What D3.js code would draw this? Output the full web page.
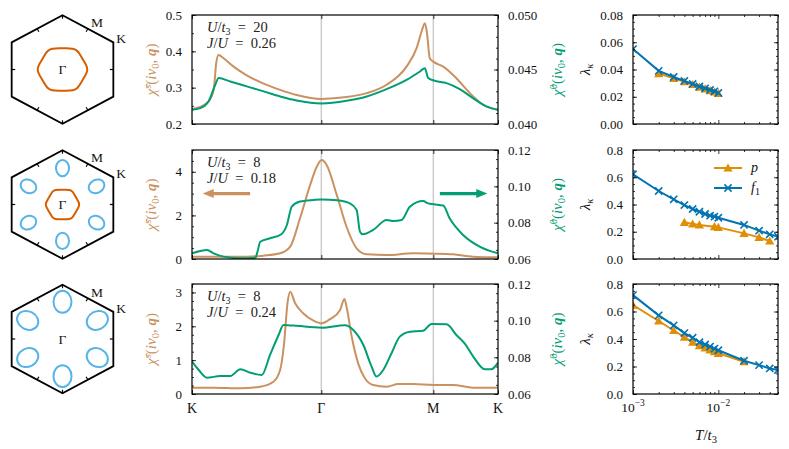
<!DOCTYPE html>
<html>
<head>
<meta charset="utf-8" />
<script src="https://d3js.org/d3.v7.min.js"></script>
<style>
  body { margin: 0; background: #fff; }
</style>
</head>
<body>
<svg id="fig" width="789" height="449"></svg>
<script>
// ---- data ----
// path K -> Gamma -> M -> K, positions as fraction of the path
const pathTicks = [0, 0.4226, 0.7887, 1];
const pathLabels = ["K", "Γ", "M", "K"];

// row 1: U/t3 = 20, J/U = 0.26
const q1s = [0, 0.027, 0.054, 0.071, 0.079, 0.087, 0.103, 0.136, 0.179, 0.234, 0.288, 0.342, 0.424, 0.505, 0.571, 0.636, 0.701, 0.734, 0.75, 0.761, 0.768, 0.777, 0.790, 0.821, 0.864, 0.908, 0.951, 1];
const chiS1 = [0.241, 0.247, 0.262, 0.294, 0.367, 0.390, 0.381, 0.358, 0.334, 0.311, 0.294, 0.280, 0.269, 0.274, 0.285, 0.308, 0.358, 0.409, 0.454, 0.477, 0.450, 0.381, 0.371, 0.358, 0.326, 0.285, 0.253, 0.239];
const q1g = [0, 0.027, 0.054, 0.076, 0.087, 0.125, 0.179, 0.234, 0.288, 0.342, 0.424, 0.505, 0.571, 0.636, 0.701, 0.745, 0.761, 0.772, 0.790, 0.832, 0.875, 0.918, 0.962, 1];
const chi01 = [0.04131, 0.04146, 0.04207, 0.0436, 0.04421, 0.0439, 0.04345, 0.04299, 0.04253, 0.04216, 0.04189, 0.04213, 0.04253, 0.0432, 0.04405, 0.04482, 0.04512, 0.04421, 0.04399, 0.04375, 0.0432, 0.04238, 0.04162, 0.04131];

// row 2: U/t3 = 8, J/U = 0.18
const q2s = [0, 0.071, 0.179, 0.234, 0.288, 0.321, 0.353, 0.386, 0.408, 0.424, 0.440, 0.473, 0.505, 0.538, 0.571, 0.636, 0.723, 0.788, 0.853, 0.918, 1];
const chiS2 = [0.107, 0.107, 0.107, 0.153, 0.26, 0.566, 1.87, 3.39, 4.24, 4.54, 4.31, 2.94, 1.48, 0.49, 0.214, 0.18, 0.26, 0.245, 0.214, 0.107, 0.076];
const q2g = [0, 0.027, 0.049, 0.071, 0.103, 0.158, 0.207, 0.214, 0.223, 0.255, 0.293, 0.310, 0.326, 0.353, 0.397, 0.424, 0.473, 0.516, 0.538, 0.549, 0.558, 0.592, 0.636, 0.658, 0.685, 0.712, 0.755, 0.772, 0.790, 0.821, 0.842, 0.886, 0.940, 1];
const chi02 = [0.0631, 0.0644, 0.0650, 0.0631, 0.0613, 0.0604, 0.0607, 0.0640, 0.0695, 0.0714, 0.0738, 0.0787, 0.0888, 0.0916, 0.0925, 0.0928, 0.0923, 0.0906, 0.0870, 0.0750, 0.0736, 0.0760, 0.0815, 0.0809, 0.0815, 0.0888, 0.0919, 0.0906, 0.0901, 0.0894, 0.0824, 0.0732, 0.0668, 0.0631];

// row 3: U/t3 = 8, J/U = 0.24
const q3s = [0, 0.071, 0.158, 0.223, 0.266, 0.288, 0.301, 0.312, 0.321, 0.337, 0.364, 0.397, 0.424, 0.451, 0.484, 0.498, 0.505, 0.522, 0.543, 0.565, 0.592, 0.636, 0.674, 0.723, 0.790, 0.853, 0.918, 1];
const chiS3 = [0.187, 0.187, 0.167, 0.217, 0.364, 0.709, 1.50, 2.68, 3.02, 2.68, 2.38, 2.17, 2.09, 2.21, 2.48, 2.81, 2.58, 1.69, 0.906, 0.463, 0.266, 0.217, 0.295, 0.295, 0.266, 0.266, 0.187, 0.187];
const q3g = [0, 0.022, 0.049, 0.092, 0.125, 0.158, 0.190, 0.228, 0.255, 0.283, 0.299, 0.332, 0.424, 0.500, 0.527, 0.560, 0.587, 0.603, 0.625, 0.652, 0.679, 0.712, 0.755, 0.783, 0.832, 0.864, 0.891, 0.918, 0.957, 0.978, 1];
const chi03 = [0.0776, 0.0731, 0.0689, 0.0698, 0.0698, 0.0735, 0.0716, 0.0704, 0.0813, 0.0922, 0.0976, 0.0973, 0.0962, 0.0975, 0.0949, 0.0867, 0.0749, 0.0695, 0.0731, 0.0822, 0.0913, 0.0940, 0.0945, 0.0982, 0.0980, 0.0922, 0.0876, 0.0807, 0.0735, 0.0735, 0.0771];

// eigenvalues lambda_kappa vs T/t3
const temps = [0.001, 0.002, 0.003, 0.004, 0.005, 0.006, 0.007, 0.008, 0.009, 0.01, 0.02, 0.03, 0.04, 0.05];
const f1T1 = [0.001, 0.002, 0.003, 0.004, 0.005, 0.006, 0.007, 0.008, 0.009, 0.01];
const f1L1 = [0.055, 0.039, 0.0345, 0.0316, 0.0294, 0.0275, 0.0262, 0.025, 0.024, 0.0228];
const pT1 = [0.002, 0.003, 0.004, 0.005, 0.006, 0.007, 0.008, 0.009, 0.01];
const pL1 = [0.037, 0.0335, 0.031, 0.029, 0.027, 0.0258, 0.0245, 0.0235, 0.0225];
const f1L2 = [0.622, 0.499, 0.438, 0.396, 0.367, 0.347, 0.330, 0.318, 0.311, 0.303, 0.25, 0.208, 0.181, 0.164];
const pT2 = [0.004, 0.005, 0.006, 0.009, 0.01, 0.02, 0.03, 0.04];
const pL2 = [0.269, 0.257, 0.25, 0.237, 0.232, 0.188, 0.159, 0.132];
const f1L3 = [0.719, 0.572, 0.499, 0.443, 0.409, 0.377, 0.36, 0.345, 0.33, 0.318, 0.242, 0.21, 0.186, 0.174];
const pT3 = [0.001, 0.002, 0.003, 0.004, 0.005, 0.006, 0.007, 0.008, 0.009, 0.01, 0.02];
const pL3 = [0.646, 0.531, 0.462, 0.413, 0.377, 0.352, 0.335, 0.32, 0.308, 0.296, 0.235];

// Fermi surfaces (control points), k in units of |Gamma K|
const fs1X = [0.424, 0.370, 0.315, 0.261, 0.179, 0.061, -0.061, -0.179, -0.261, -0.315, -0.370, -0.424,
              -0.424, -0.370, -0.315, -0.261, -0.179, -0.061, 0.061, 0.179, 0.261, 0.315, 0.370, 0.424];
const fs1Y = [0.047, 0.144, 0.246, 0.343, 0.39, 0.39, 0.39, 0.39, 0.343, 0.246, 0.144, 0.047,
              -0.047, -0.144, -0.246, -0.343, -0.39, -0.39, -0.39, -0.39, -0.343, -0.246, -0.144, -0.047];
const fs2X = [0.286, 0.246, 0.209, 0.170, 0.124, 0.040, -0.040, -0.124, -0.170, -0.209, -0.246, -0.286,
              -0.286, -0.246, -0.209, -0.170, -0.124, -0.040, 0.040, 0.124, 0.170, 0.209, 0.246, 0.286];
const fs2Y = [0.027, 0.101, 0.171, 0.245, 0.272, 0.272, 0.272, 0.272, 0.245, 0.171, 0.101, 0.027,
              -0.027, -0.101, -0.171, -0.245, -0.272, -0.272, -0.272, -0.272, -0.245, -0.171, -0.101, -0.027];
const pocketAngles = [90, 30, -30, -90, -150, 150];
const pocket2 = [0.67, 0.15, 0.12];   // distance, radial and tangential half axes
const pocket3 = [0.685, 0.203, 0.166];

// ---- layout ----
const serif = '"Liberation Serif", "DejaVu Serif", serif';
const cTan = "#CA9161", cGreen = "#029E73", cOrange = "#DE8F05", cBlue = "#0173B2";
const cFs = "#D55E00", cPocket = "#56B4E9";
const rows = [{ top: 15, bot: 124 }, { top: 150, bot: 259 }, { top: 284, bot: 394 }];
const midL = 192, midR = 498, lamL = 633, lamR = 778;
const hexCx = 62.5, hexRx = 58.7, hexRy = 54.3;

const svg = d3.select("#fig");
const defs = svg.append("defs");

function axisTicks(g, gen, scale, vals, len, fmt, pad) {
  const ax = gen(scale).tickValues(vals).tickSize(-len).tickPadding(pad || 10)
    .tickFormat(fmt ? d3.format(fmt) : "");
  g.call(ax);
  g.select(".domain").remove();
  g.attr("font-family", serif).attr("font-size", 13);
  g.selectAll(".tick line").attr("stroke", "#000").attr("stroke-width", 0.8);
  g.selectAll(".tick text").attr("fill", "#111");
}

function steps(d, step) {
  return d3.range(d[0], d[1] + step / 2, step);
}

function clipRect(id, x0, y0, x1, y1) {
  defs.append("clipPath").attr("id", id).append("rect")
    .attr("x", x0).attr("y", y0).attr("width", x1 - x0).attr("height", y1 - y0);
}

// ---- middle column: susceptibilities ----
const midPanels = [
  { qs: q1s, s: chiS1, qg: q1g, g: chi01, yl: [0.2, 0.5], yr: [0.04, 0.05],
    lt: [0.2, 0.3, 0.4, 0.5], lm: 0.05, rt: [0.04, 0.045, 0.05], rm: 0.001, lf: ".1f", rf: ".3f", U: "20", J: "0.26" },
  { qs: q2s, s: chiS2, qg: q2g, g: chi02, yl: [0, 5], yr: [0.06, 0.12],
    lt: [0, 2, 4], lm: 0.5, rt: [0.06, 0.08, 0.10, 0.12], rm: 0.005, lf: "d", rf: ".2f", U: "8", J: "0.18" },
  { qs: q3s, s: chiS3, qg: q3g, g: chi03, yl: [0, 3.25], yr: [0.06, 0.12],
    lt: [0, 1, 2, 3], lm: 0.25, rt: [0.06, 0.08, 0.10, 0.12], rm: 0.005, lf: "d", rf: ".2f", U: "8", J: "0.24" }
];

midPanels.forEach((p, i) => {
  const r = rows[i];
  const x = d3.scaleLinear().domain([0, 1]).range([midL, midR]);
  const yL = d3.scaleLinear().domain(p.yl).range([r.bot, r.top]);
  const yR = d3.scaleLinear().domain(p.yr).range([r.bot, r.top]);
  const g = svg.append("g");
  clipRect("midclip" + i, midL, r.top, midR, r.bot);

  // Gamma and M guide lines
  g.selectAll("line.guide").data([pathTicks[1], pathTicks[2]]).join("line")
    .attr("x1", d => x(d)).attr("x2", d => x(d))
    .attr("y1", r.top).attr("y2", r.bot)
    .attr("stroke", "#cccccc").attr("stroke-width", 1.5);

  const curves = g.append("g").attr("clip-path", `url(#midclip${i})`);
  const lineS = d3.line().x(d => x(d[0])).y(d => yL(d[1])).curve(d3.curveMonotoneX);
  const lineG = d3.line().x(d => x(d[0])).y(d => yR(d[1])).curve(d3.curveMonotoneX);
  curves.append("path").datum(d3.zip(p.qs, p.s)).attr("d", lineS)
    .attr("fill", "none").attr("stroke", cTan).attr("stroke-width", 2);
  curves.append("path").datum(d3.zip(p.qg, p.g)).attr("d", lineG)
    .attr("fill", "none").attr("stroke", cGreen).attr("stroke-width", 2);

  // ticks
  axisTicks(g.append("g").attr("transform", `translate(${midL},0)`), d3.axisLeft, yL, p.lt, 4, p.lf);
  axisTicks(g.append("g").attr("transform", `translate(${midL},0)`), d3.axisLeft, yL, steps(p.yl, p.lm), 2, null);
  axisTicks(g.append("g").attr("transform", `translate(${midR},0)`), d3.axisRight, yR, p.rt, 4, p.rf);
  axisTicks(g.append("g").attr("transform", `translate(${midR},0)`), d3.axisRight, yR, steps(p.yr, p.rm), 2, null);
  axisTicks(g.append("g").attr("transform", `translate(0,${r.bot})`), d3.axisBottom, x, pathTicks, 4, null);
  axisTicks(g.append("g").attr("transform", `translate(0,${r.top})`), d3.axisTop, x, pathTicks, 4, null);

  g.append("rect").attr("x", midL).attr("y", r.top)
    .attr("width", midR - midL).attr("height", r.bot - r.top)
    .attr("fill", "none").attr("stroke", "#000").attr("stroke-width", 1.2);

  // parameter annotation
  const t1 = g.append("text").attr("x", 207).attr("y", r.top + 17)
    .attr("font-family", serif).attr("font-size", 14.5).attr("fill", "#222");
  t1.append("tspan").attr("font-style", "italic").text("U");
  t1.append("tspan").text("/");
  t1.append("tspan").attr("font-style", "italic").text("t");
  t1.append("tspan").attr("font-size", 10).attr("dy", 3).text("3");
  t1.append("tspan").attr("dy", -3).text("\u2002=\u2002" + p.U);
  const t2 = g.append("text").attr("x", 207).attr("y", r.top + 33)
    .attr("font-family", serif).attr("font-size", 14.5).attr("fill", "#222");
  t2.append("tspan").attr("font-style", "italic").text("J");
  t2.append("tspan").text("/");
  t2.append("tspan").attr("font-style", "italic").text("U");
  t2.append("tspan").text("\u2002=\u2002" + p.J);

  // axis labels
  function chiLabel(tx, sup, color) {
    const t = g.append("text")
      .attr("transform", `translate(${tx},${(r.top + r.bot) / 2}) rotate(-90)`)
      .attr("text-anchor", "middle").attr("font-family", serif)
      .attr("font-size", 15).attr("fill", color);
    t.append("tspan").attr("font-style", "italic").text("χ\u0302");
    t.append("tspan").attr("font-size", 10.5).attr("dy", -5.5).text(sup);
    t.append("tspan").attr("dy", 5.5).text("(");
    t.append("tspan").attr("font-style", "italic").text("iν");
    t.append("tspan").attr("font-size", 10.5).attr("dy", 3).text("0");
    t.append("tspan").attr("dy", -3).text(", ");
    t.append("tspan").attr("font-style", "italic").attr("font-weight", "bold").text("q");
    t.append("tspan").text(")");
  }
  chiLabel(156, "s", cTan);
  chiLabel(562, "0", cGreen);

  // x labels on the last row
  if (i === 2) {
    g.selectAll("text.kl").data(pathTicks).join("text")
      .attr("x", d => x(d)).attr("y", r.bot + 19)
      .attr("text-anchor", "middle").attr("font-family", serif)
      .attr("font-size", 14).attr("fill", "#111")
      .text((d, j) => pathLabels[j]);
  }

  // arrows telling which axis each curve uses
  if (i === 1) {
    const arrow = (from, to, yv, color) => {
      const xa = x(from), xb = x(to), yy = yL(yv);
      const dir = Math.sign(xb - xa), hl = 11, hw = 4.5, sw = 1.6;
      const xh = xb - dir * hl;
      g.append("path")
        .attr("d", `M${xa},${yy - sw}L${xh},${yy - sw}L${xh},${yy - hw}L${xb},${yy}L${xh},${yy + hw}L${xh},${yy + sw}L${xa},${yy + sw}Z`)
        .attr("fill", color);
    };
    arrow(0.19, 0.035, 3.0, cTan);
    arrow(0.81, 0.965, 3.0, cGreen);
  }
});

// ---- left column: Brillouin zones and Fermi surfaces ----
function drawBZ(i, fsX, fsY, pocket) {
  const r = rows[i];
  const cy = (r.top + r.bot) / 2;
  const hx = d3.scaleLinear().domain([-1, 1]).range([hexCx - hexRx, hexCx + hexRx]);
  const hy = d3.scaleLinear().domain([-1, 1]).range([cy + hexRy, cy - hexRy]);
  const g = svg.append("g");
  const rad = Math.PI / 180;

  if (fsX) {
    g.append("path").datum(d3.zip(fsX, fsY))
      .attr("d", d3.line().x(d => hx(d[0])).y(d => hy(d[1])).curve(d3.curveBasisClosed))
      .attr("fill", "none").attr("stroke", cFs).attr("stroke-width", 2);
  }
  if (pocket) {
    pocketAngles.forEach(a => {
      const px = hx(pocket[0] * Math.cos(a * rad)), py = hy(pocket[0] * Math.sin(a * rad));
      const ang = Math.atan2(py - cy, px - hexCx) / rad;
      g.append("ellipse").attr("cx", px).attr("cy", py)
        .attr("rx", pocket[1] * hexRy).attr("ry", pocket[2] * hexRy)
        .attr("transform", `rotate(${ang},${px},${py})`)
        .attr("fill", "none").attr("stroke", cPocket).attr("stroke-width", 2);
    });
  }

  const corners = [90, 30, -30, -90, -150, 150].map(a => [hx(Math.cos(a * rad)), hy(Math.sin(a * rad))]);
  g.append("path").attr("d", d3.line()(corners) + "Z")
    .attr("fill", "none").attr("stroke", "#000").attr("stroke-width", 1.8)
    .attr("stroke-linejoin", "miter");

  // high symmetry ticks pointing toward Gamma
  const marks = [[1, 90], [1, -90]].concat([0, 60, 120, 180, 240, 300].map(a => [Math.cos(30 * rad), a]));
  marks.forEach(([rr, a]) => {
    const px = hx(rr * Math.cos(a * rad)), py = hy(rr * Math.sin(a * rad));
    const dx = hexCx - px, dy = cy - py, n = Math.hypot(dx, dy);
    g.append("line").attr("x1", px).attr("y1", py)
      .attr("x2", px + dx / n * 3.5).attr("y2", py + dy / n * 3.5)
      .attr("stroke", "#000").attr("stroke-width", 1.2);
  });

  const lab = (tx, ty, s) => g.append("text").attr("x", tx).attr("y", ty)
    .attr("text-anchor", "middle").attr("font-family", serif)
    .attr("font-size", 13.5).attr("fill", "#111").text(s);
  lab(hexCx, cy + 4.5, "Γ");
  lab(hexCx + 34.5, cy - 42.5, "M");
  lab(hexCx + 58.5, cy - 26.5, "K");
}
drawBZ(0, fs1X, fs1Y, null);
drawBZ(1, fs2X, fs2Y, pocket2);
drawBZ(2, null, null, pocket3);

// ---- right column: eigenvalues ----
const lamPanels = [
  { fT: f1T1, f: f1L1, pT: pT1, p: pL1, y: [0, 0.08], yt: [0, 0.02, 0.04, 0.06, 0.08], ym: 0.005, fmt: ".2f" },
  { fT: temps, f: f1L2, pT: pT2, p: pL2, y: [0, 0.8], yt: [0, 0.2, 0.4, 0.6, 0.8], ym: 0.05, fmt: ".1f" },
  { fT: temps, f: f1L3, pT: pT3, p: pL3, y: [0, 0.8], yt: [0, 0.2, 0.4, 0.6, 0.8], ym: 0.05, fmt: ".1f" }
];
const triPath = "M0,-4.6L4.6,3.6L-4.6,3.6Z";
const crossPath = "M-3.6,-3.6L3.6,3.6M-3.6,3.6L3.6,-3.6";
const logMajor = [1e-3, 1e-2];
const logMinor = [2e-3, 3e-3, 4e-3, 5e-3, 6e-3, 7e-3, 8e-3, 9e-3, 2e-2, 3e-2, 4e-2, 5e-2];

lamPanels.forEach((p, i) => {
  const r = rows[i];
  const x = d3.scaleLog().domain([1e-3, 5e-2]).range([lamL, lamR]);
  const y = d3.scaleLinear().domain(p.y).range([r.bot, r.top]);
  const g = svg.append("g");
  clipRect("lamclip" + i, lamL, r.top, lamR, r.bot);
  const plot = g.append("g").attr("clip-path", `url(#lamclip${i})`);
  const line = d3.line().x(d => x(d[0])).y(d => y(d[1]));

  const pData = d3.zip(p.pT, p.p), fData = d3.zip(p.fT, p.f);
  plot.append("path").datum(pData).attr("d", line)
    .attr("fill", "none").attr("stroke", cOrange).attr("stroke-width", 2);
  plot.selectAll("path.tri").data(pData).join("path").attr("class", "tri")
    .attr("d", triPath).attr("transform", d => `translate(${x(d[0])},${y(d[1])})`)
    .attr("fill", cOrange);
  plot.append("path").datum(fData).attr("d", line)
    .attr("fill", "none").attr("stroke", cBlue).attr("stroke-width", 2);
  plot.selectAll("path.crs").data(fData).join("path").attr("class", "crs")
    .attr("d", crossPath).attr("transform", d => `translate(${x(d[0])},${y(d[1])})`)
    .attr("fill", "none").attr("stroke", cBlue).attr("stroke-width", 1.6);

  axisTicks(g.append("g").attr("transform", `translate(${lamL},0)`), d3.axisLeft, y, p.yt, 4, p.fmt);
  axisTicks(g.append("g").attr("transform", `translate(${lamL},0)`), d3.axisLeft, y, steps(p.y, p.ym), 2, null);
  axisTicks(g.append("g").attr("transform", `translate(${lamR},0)`), d3.axisRight, y, p.yt, 4, null);
  axisTicks(g.append("g").attr("transform", `translate(${lamR},0)`), d3.axisRight, y, steps(p.y, p.ym), 2, null);
  [[d3.axisBottom, r.bot], [d3.axisTop, r.top]].forEach(([gen, yy]) => {
    axisTicks(g.append("g").attr("transform", `translate(0,${yy})`), gen, x, logMajor, 4, null);
    axisTicks(g.append("g").attr("transform", `translate(0,${yy})`), gen, x, logMinor, 2, null);
  });

  g.append("rect").attr("x", lamL).attr("y", r.top)
    .attr("width", lamR - lamL).attr("height", r.bot - r.top)
    .attr("fill", "none").attr("stroke", "#000").attr("stroke-width", 1.2);

  const yl = g.append("text")
    .attr("transform", `translate(590,${(r.top + r.bot) / 2}) rotate(-90)`)
    .attr("text-anchor", "middle").attr("font-family", serif)
    .attr("font-size", 15).attr("fill", "#111");
  yl.append("tspan").attr("font-style", "italic").text("λ");
  yl.append("tspan").attr("font-style", "italic").attr("font-size", 10.5).attr("dy", 3).text("κ");

  if (i === 1) {
    const leg = [[cOrange, triPath, true, "p", null], [cBlue, crossPath, false, "f", "1"]];
    leg.forEach(([c, m, filled, s, sub], j) => {
      const ly = 168 + j * 20;
      g.append("line").attr("x1", 714).attr("x2", 742).attr("y1", ly).attr("y2", ly)
        .attr("stroke", c).attr("stroke-width", 2);
      g.append("path").attr("d", m).attr("transform", `translate(728,${ly})`)
        .attr("fill", filled ? c : "none").attr("stroke", filled ? "none" : c).attr("stroke-width", 1.6);
      const t = g.append("text").attr("x", 751).attr("y", ly + 4)
        .attr("font-family", serif).attr("font-size", 14).attr("fill", "#111");
      t.append("tspan").attr("font-style", "italic").text(s);
      if (sub) t.append("tspan").attr("font-size", 10).attr("dy", 3).text(sub);
    });
  }

  if (i === 2) {
    logMajor.forEach((v, j) => {
      const t = g.append("text").attr("x", x(v)).attr("y", r.bot + 18)
        .attr("text-anchor", "middle").attr("font-family", serif)
        .attr("font-size", 13.5).attr("fill", "#111");
      t.append("tspan").text("10");
      t.append("tspan").attr("font-size", 9.5).attr("dy", -6).text(j === 0 ? "−3" : "−2");
    });
    const xl = g.append("text").attr("x", 706).attr("y", 440)
      .attr("text-anchor", "middle").attr("font-family", serif)
      .attr("font-size", 15).attr("fill", "#111");
    xl.append("tspan").attr("font-style", "italic").text("T");
    xl.append("tspan").text("/");
    xl.append("tspan").attr("font-style", "italic").text("t");
    xl.append("tspan").attr("font-size", 10.5).attr("dy", 3).text("3");
  }
});
</script>
</body>
</html>
